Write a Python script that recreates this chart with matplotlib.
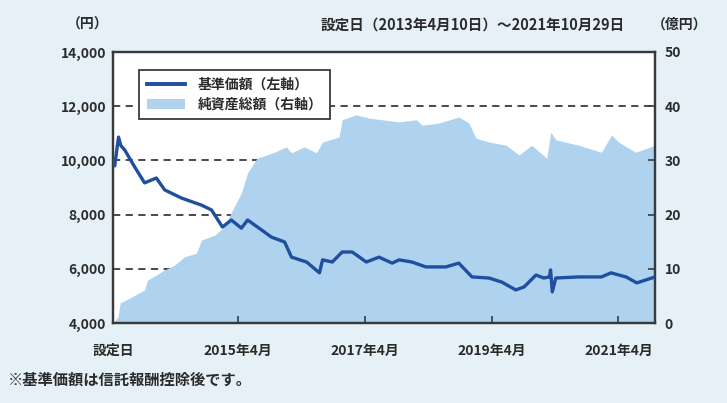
import numpy as np
import pandas as pd
import matplotlib
matplotlib.use("Agg")
import matplotlib.pyplot as plt
from matplotlib.lines import Line2D
from matplotlib.patches import Patch
from matplotlib.ticker import FuncFormatter

plt.rcParams["font.family"] = ["Noto Sans CJK JP", "DejaVu Sans"]
plt.rcParams["font.weight"] = "bold"

# --- 基準価額 (円, 左軸) ---
price_dates = [
    "2013-04-10", "2013-04-20", "2013-05-12", "2013-05-25", "2013-06-17",
    "2013-08-13", "2013-10-09", "2013-12-16", "2014-02-02", "2014-05-10",
    "2014-09-02", "2014-10-30", "2015-01-01", "2015-02-21", "2015-04-20",
    "2015-05-26", "2015-08-15", "2015-10-10", "2015-12-25", "2016-02-03",
    "2016-04-30", "2016-07-13", "2016-07-31", "2016-09-25", "2016-11-21",
    "2017-01-18", "2017-04-09", "2017-06-21", "2017-09-05", "2017-10-15",
    "2017-12-28", "2018-03-18", "2018-07-12", "2018-09-24", "2018-12-09",
    "2019-03-17", "2019-05-30", "2019-08-18", "2019-10-05", "2019-12-13",
    "2020-01-27", "2020-02-28", "2020-03-06", "2020-03-16", "2020-04-05",
    "2020-08-14", "2020-12-24", "2021-02-17", "2021-05-15", "2021-07-16",
    "2021-10-29",
]
price_vals = [
    10000, 9800, 10860, 10550, 10380,
    9760, 9170, 9350, 8910, 8610,
    8350, 8170, 7540, 7800, 7500,
    7800, 7430, 7170, 6990, 6430,
    6250, 5850, 6330, 6250, 6620,
    6620, 6250, 6430, 6210, 6330,
    6250, 6070, 6070, 6210, 5700,
    5660, 5510, 5220, 5330, 5770,
    5660, 5700, 5960, 5150, 5660,
    5700, 5700, 5850, 5700, 5480,
    5700,
]

# --- 純資産総額 (億円, 右軸) ---
nav_dates = [
    "2013-04-10", "2013-05-08", "2013-05-22", "2013-07-27", "2013-10-09",
    "2013-10-26", "2014-02-02", "2014-04-01", "2014-05-27", "2014-08-04",
    "2014-09-02", "2014-11-17", "2015-01-11", "2015-02-27", "2015-04-20",
    "2015-05-26", "2015-07-19", "2015-10-27", "2016-01-04", "2016-02-03",
    "2016-04-17", "2016-06-25", "2016-07-31", "2016-11-02", "2016-11-21",
    "2017-02-09", "2017-04-27", "2017-07-09", "2017-10-15", "2018-01-22",
    "2018-02-25", "2018-06-02", "2018-09-24", "2018-11-21", "2019-01-01",
    "2019-03-17", "2019-06-24", "2019-09-06", "2019-11-18", "2020-02-13",
    "2020-03-07", "2020-04-05", "2020-08-14", "2020-12-24", "2021-02-21",
    "2021-04-01", "2021-07-09", "2021-10-29",
]
nav_vals = [
    0.0, 1.1, 3.7, 4.8, 6.1,
    7.9, 9.8, 10.7, 12.2, 12.9,
    15.3, 16.2, 17.7, 20.8, 24.0,
    27.7, 30.4, 31.5, 32.5, 31.4,
    32.5, 31.4, 33.4, 34.3, 37.5,
    38.4, 37.8, 37.5, 37.1, 37.5,
    36.5, 36.9, 38.0, 36.9, 34.1,
    33.4, 32.8, 31.0, 32.8, 30.4,
    35.2, 33.8, 32.8, 31.5, 34.7,
    33.4, 31.5, 32.8,
]

tick_dates = ["2013-04-10", "2015-04-01", "2017-04-01", "2019-04-01", "2021-04-01"]
tick_labels = ["設定日", "2015年4月", "2017年4月", "2019年4月", "2021年4月"]

BG = "#e5f1f7"
FILL = "#afd3ef"
LINE = "#1f4f9e"
INK = "#3a3a3a"
TXT = "#2b2b2b"
FS = 10

pd_price = pd.to_datetime(price_dates)
pd_nav = pd.to_datetime(nav_dates)

fig = plt.figure(figsize=(7.27, 4.03), dpi=100, facecolor=BG)
# 右軸(純資産)を背面、左軸(基準価額)を前面に
ax2 = fig.add_axes([0.1554, 0.1985, 0.7456, 0.6725])
ax = fig.add_axes(ax2.get_position(), sharex=ax2)
ax.patch.set_visible(False)

ax2.set_facecolor("white")
for v in [10, 20, 30, 40]:
    ax2.axhline(v, color=INK, lw=1.3, ls=(0, (4, 3)), zorder=0.5)
ax2.fill_between(pd_nav, 0, nav_vals, color=FILL, lw=0, zorder=1)
ax2.set_ylim(0, 50)
ax2.set_yticks([0, 10, 20, 30, 40, 50])
ax2.yaxis.tick_right()
ax2.tick_params(axis="y", direction="in", length=5, width=1.2, colors=INK,
                labelsize=FS, labelcolor=TXT, pad=7)

ax.plot(pd_price, price_vals, color=LINE, lw=2.4, zorder=3)
ax.set_ylim(4000, 14000)
ax.set_yticks([4000, 6000, 8000, 10000, 12000, 14000])
ax.yaxis.set_major_formatter(FuncFormatter(lambda v, p: f"{int(v):,}"))
ax.tick_params(axis="y", length=0, labelsize=FS, labelcolor=TXT, pad=5)

ax2.set_xlim(pd.Timestamp("2013-04-10"), pd.Timestamp("2021-10-29"))
ax2.set_xticks(pd.to_datetime(tick_dates))
ax2.set_xticklabels(tick_labels)
ax2.tick_params(axis="x", direction="in", length=5, width=1.2, colors=INK,
                labelsize=FS, labelcolor=TXT, pad=15)
ax.tick_params(axis="x", length=0, labelbottom=False)

for a in (ax, ax2):
    for s in a.spines.values():
        s.set_color(INK)
        s.set_linewidth(1.6)

handles = [Line2D([0], [0], color=LINE, lw=2.8),
           Patch(facecolor=FILL, edgecolor="none")]
leg = ax.legend(handles, ["基準価額（左軸）", "純資産総額（右軸）"],
                loc="upper left", bbox_to_anchor=(0.035, 0.96),
                fontsize=FS, frameon=True, fancybox=False, framealpha=1,
                edgecolor=INK, handlelength=2.8, borderpad=0.55,
                labelspacing=0.45, handletextpad=0.9)
leg.get_frame().set_linewidth(1.3)
for t in leg.get_texts():
    t.set_color(TXT)

fig.text(88 / 727, 1 - 25 / 403, "（円）", ha="center", va="center", fontsize=FS, color=TXT)
fig.text(625 / 727, 1 - 25 / 403, "設定日（2013年4月10日）～2021年10月29日", ha="right",
         va="center", fontsize=10.5, color=TXT)
fig.text(680 / 727, 1 - 25 / 403, "（億円）", ha="center", va="center", fontsize=FS, color=TXT)
fig.text(8 / 727, 1 - 380 / 403, "※基準価額は信託報酬控除後です。", ha="left", va="center",
         fontsize=11, color=TXT)

fig.savefig("out.png", dpi=100, facecolor=BG)
